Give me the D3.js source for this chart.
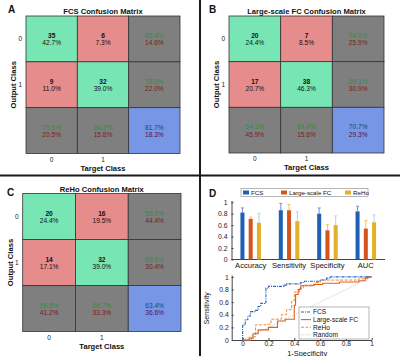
<!DOCTYPE html>
<html>
<head>
<meta charset="utf-8">
<script src="https://cdn.jsdelivr.net/npm/d3@7"></script>
<style>
  body { margin: 0; background: #fff; }
  svg { display: block; font-family: "Liberation Sans", Arial, sans-serif; }
</style>
</head>
<body>
<div id="chart"></div>
<script>
// confusion matrix counts (rows = output class, cols = target class)
const fcsCounts = [[35, 6], [9, 32]];
const largeScaleCounts = [[20, 7], [17, 38]];
const rehoCounts = [[20, 16], [14, 32]];
const classLabels = ['0', '1'];

// panel D bar chart
const metrics = ['Accuracy', 'Sensitivity', 'Specificity', 'AUC'];
const methods = ['FCS', 'Large-scale FC', 'ReHo'];
const fcsScores = [0.82, 0.86, 0.80, 0.84];
const largeScaleScores = [0.71, 0.86, 0.51, 0.54];
const rehoScores = [0.64, 0.67, 0.60, 0.65];
const fcsErrTop = [0.90, 0.98, 0.90, 0.93];
const largeScaleErrTop = [0.74, 0.96, 0.61, 0.68];
const rehoErrTop = [0.80, 0.83, 0.76, 0.78];
const barTicks = [0, 0.2, 0.4, 0.6, 0.8, 1];

// panel D ROC curves, [1-specificity, sensitivity]
const fcsRoc = [[0, 0], [0, 0.24], [0.02, 0.24], [0.02, 0.32], [0.04, 0.32], [0.04, 0.38],
  [0.06, 0.38], [0.06, 0.45], [0.1, 0.45], [0.1, 0.47], [0.12, 0.47], [0.12, 0.53],
  [0.14, 0.53], [0.14, 0.58], [0.18, 0.58], [0.18, 0.82], [0.2, 0.82], [0.2, 0.85],
  [0.32, 0.85], [0.32, 0.87], [0.34, 0.87], [0.34, 0.89], [0.45, 0.89], [0.45, 0.91],
  [0.48, 0.91], [0.48, 0.93], [0.6, 0.93], [0.6, 0.95], [0.65, 0.95], [0.65, 0.98],
  [0.68, 0.98], [0.68, 1], [1, 1]];
const largeScaleRoc = [[0, 0], [0.05, 0], [0.05, 0.03], [0.08, 0.03], [0.08, 0.1],
  [0.12, 0.1], [0.12, 0.16], [0.2, 0.16], [0.2, 0.2], [0.27, 0.2], [0.27, 0.3],
  [0.33, 0.3], [0.33, 0.33], [0.4, 0.33], [0.4, 0.55], [0.41, 0.55], [0.41, 0.72],
  [0.43, 0.72], [0.43, 0.8], [0.45, 0.8], [0.45, 0.86], [0.55, 0.86], [0.55, 0.88],
  [0.62, 0.88], [0.62, 0.9], [0.75, 0.9], [0.75, 0.92], [0.9, 0.92], [0.9, 0.94],
  [0.95, 0.94], [0.95, 0.98], [0.97, 0.98], [0.97, 1], [1, 1]];
const rehoRoc = [[0, 0], [0.07, 0], [0.07, 0.05], [0.1, 0.05], [0.1, 0.24], [0.18, 0.24],
  [0.18, 0.25], [0.22, 0.25], [0.22, 0.33], [0.3, 0.33], [0.3, 0.4], [0.34, 0.4],
  [0.34, 0.48], [0.38, 0.48], [0.38, 0.62], [0.4, 0.62], [0.4, 0.76], [0.44, 0.76],
  [0.44, 0.82], [0.47, 0.82], [0.47, 0.87], [0.56, 0.87], [0.56, 0.91], [0.6, 0.91],
  [0.6, 0.95], [0.9, 0.95], [0.9, 0.97], [0.95, 0.97], [0.95, 1], [1, 1]];
const randomRoc = [[0, 0], [1, 1]];
const rocTicks = [0, 0.2, 0.4, 0.6, 0.8, 1];

const W = 400, H = 356;
const svg = d3.select('#chart').append('svg')
  .attr('width', W).attr('height', H);

// panel dividers
svg.append('line').attr('x1', 200).attr('x2', 200).attr('y1', 0).attr('y2', H)
  .attr('stroke', '#1a1a1a').attr('stroke-width', 2);
svg.append('line').attr('x1', 0).attr('x2', W).attr('y1', 175.5).attr('y2', 175.5)
  .attr('stroke', '#1a1a1a').attr('stroke-width', 2);

const pct = d3.format('.1f');
const green = '#78e6b4', red = '#e68c8c', grey = '#7f7f7f', blue = '#7896e6';

function drawMatrix(box) {
  const counts = box.counts;
  const total = d3.sum(counts.flat());
  const x = d3.scaleBand().domain([0, 1, 2]).range([box.x0, box.x1]);
  const y = d3.scaleBand().domain([0, 1, 2]).range([box.y0, box.y1]);
  const g = svg.append('g');

  const cells = [];
  for (let r = 0; r < 3; r++) {
    for (let c = 0; c < 3; c++) {
      let fill, lines;
      if (r < 2 && c < 2) {
        const v = counts[r][c];
        fill = r === c ? green : red;
        lines = [{ t: v, w: 'bold', col: '#111' }, { t: pct(100 * v / total) + '%', w: 'normal', col: '#111' }];
      } else {
        let good, all;
        if (r < 2 && c === 2) { good = counts[r][r]; all = d3.sum(counts[r]); }
        else if (r === 2 && c < 2) { good = counts[c][c]; all = counts[0][c] + counts[1][c]; }
        else { good = counts[0][0] + counts[1][1]; all = total; }
        const acc = 100 * good / all;
        fill = r === 2 && c === 2 ? blue : grey;
        const topCol = r === 2 && c === 2 ? '#0d4f6b' : '#2f8f3a';
        const botCol = r === 2 && c === 2 ? '#5a0f4a' : '#7a1c1c';
        lines = [{ t: pct(acc) + '%', w: 'normal', col: topCol }, { t: pct(100 - acc) + '%', w: 'normal', col: botCol }];
      }
      cells.push({ r, c, fill, lines });
    }
  }

  g.selectAll('rect').data(cells).join('rect')
    .attr('x', d => x(d.c)).attr('y', d => y(d.r))
    .attr('width', x.bandwidth()).attr('height', y.bandwidth())
    .attr('fill', d => d.fill)
    .attr('stroke', '#333').attr('stroke-width', 0.8);

  cells.forEach(d => {
    const cx = x(d.c) + x.bandwidth() / 2, cy = y(d.r) + y.bandwidth() / 2;
    d.lines.forEach((l, i) => {
      g.append('text')
        .attr('x', cx).attr('y', cy + (i === 0 ? -1 : 6.5))
        .attr('text-anchor', 'middle')
        .attr('font-size', 6.6).attr('font-weight', l.w)
        .attr('fill', l.col)
        .text(l.t);
    });
  });

  // tick labels
  g.selectAll('.ylab').data(classLabels).join('text')
    .attr('x', box.x0 - 4).attr('y', (d, i) => y(i) + y.bandwidth() / 2 + 2)
    .attr('text-anchor', 'end').attr('font-size', 6.5).attr('fill', '#222')
    .text(d => d);
  g.selectAll('.xlab').data(classLabels).join('text')
    .attr('x', (d, i) => x(i) + x.bandwidth() / 2).attr('y', box.y1 + 8)
    .attr('text-anchor', 'middle').attr('font-size', 6.5).attr('fill', '#222')
    .text(d => d);

  g.append('text')
    .attr('x', (box.x0 + box.x1) / 2).attr('y', box.y0 - 2)
    .attr('text-anchor', 'middle').attr('font-size', 7.6).attr('font-weight', 'bold')
    .attr('fill', '#111').text(box.title);
  g.append('text')
    .attr('x', (box.x0 + box.x1) / 2).attr('y', box.y1 + 17)
    .attr('text-anchor', 'middle').attr('font-size', 7.6).attr('font-weight', 'bold')
    .attr('fill', '#111').text('Target Class');
  g.append('text')
    .attr('transform', `translate(${box.x0 - 10}, ${(box.y0 + box.y1) / 2}) rotate(-90)`)
    .attr('text-anchor', 'middle').attr('font-size', 7.6).attr('font-weight', 'bold')
    .attr('fill', '#111').text('Output Class');
  g.append('text')
    .attr('x', box.lx).attr('y', box.ly)
    .attr('font-size', 10).attr('font-weight', 'bold').attr('fill', '#111')
    .text(box.letter);
}

drawMatrix({ counts: fcsCounts, title: 'FCS Confusion Matrix', letter: 'A',
  x0: 26, x1: 180, y0: 16, y1: 153.5, lx: 8, ly: 13 });
drawMatrix({ counts: largeScaleCounts, title: 'Large-scale FC Confusion Matrix', letter: 'B',
  x0: 229, x1: 384, y0: 16, y1: 153, lx: 209, ly: 13 });
drawMatrix({ counts: rehoCounts, title: 'ReHo Confusion Matrix', letter: 'C',
  x0: 22.7, x1: 181, y0: 193.5, y1: 331.5, lx: 7, ly: 196 });

// ---- panel D: bars ----
svg.append('text').attr('x', 209).attr('y', 197)
  .attr('font-size', 10).attr('font-weight', 'bold').attr('fill', '#111').text('D');

const barColors = ['#1f5fb5', '#d3541c', '#e2b02a'];
const errColors = ['#8a86dc', '#e9c766', '#a8d6ee'];
const scoreSets = [fcsScores, largeScaleScores, rehoScores];
const errSets = [fcsErrTop, largeScaleErrTop, rehoErrTop];

const bx = d3.scaleLinear().domain([0.5, 4.5]).range([231.5, 385]);
const by = d3.scaleLinear().domain([0, 1.03]).range([259.5, 200.5]);

const barG = svg.append('g');
barG.append('g')
  .attr('transform', 'translate(231.5,0)')
  .call(d3.axisLeft(by).tickValues(barTicks).tickSize(-2).tickSizeOuter(0).tickPadding(4)
    .tickFormat(d3.format('~g')))
  .call(a => a.select('.domain').attr('stroke', '#444'))
  .call(a => a.selectAll('.tick line').attr('stroke', '#444'))
  .call(a => a.selectAll('text').attr('font-size', 6.8).attr('fill', '#222')
    .attr('font-family', '"Liberation Sans", Arial, sans-serif'));
barG.append('line').attr('x1', 231.5).attr('x2', 385).attr('y1', by(0)).attr('y2', by(0))
  .attr('stroke', '#444').attr('stroke-width', 1);

const offs = [-0.215, 0, 0.215], bw = 0.105;
scoreSets.forEach((vals, s) => {
  barG.selectAll(null).data(vals).join('line')
    .attr('x1', (d, i) => bx(i + 1 + offs[s])).attr('x2', (d, i) => bx(i + 1 + offs[s]))
    .attr('y1', d => by(d)).attr('y2', (d, i) => by(errSets[s][i]))
    .attr('stroke', errColors[s]).attr('stroke-width', 1);
  barG.selectAll(null).data(errSets[s]).join('line')
    .attr('x1', (d, i) => bx(i + 1 + offs[s]) - 1.5).attr('x2', (d, i) => bx(i + 1 + offs[s]) + 1.5)
    .attr('y1', d => by(d)).attr('y2', d => by(d))
    .attr('stroke', errColors[s]).attr('stroke-width', 1);
  barG.selectAll(null).data(vals).join('rect')
    .attr('x', (d, i) => bx(i + 1 + offs[s] - bw / 2))
    .attr('width', bx(bw) - bx(0))
    .attr('y', d => by(d)).attr('height', d => by(0) - by(d))
    .attr('fill', barColors[s]);
});
barG.selectAll('.cat').data(metrics).join('text')
  .attr('x', (d, i) => bx(i + 1)).attr('y', 268)
  .attr('text-anchor', 'middle').attr('font-size', 7.6).attr('fill', '#111')
  .text(d => d);

// legend
const leg = svg.append('g');
leg.append('rect').attr('x', 241).attr('y', 188.5).attr('width', 127).attr('height', 8)
  .attr('fill', '#fff').attr('stroke', '#888').attr('stroke-width', 0.6);
const legX = [243, 281, 345];
methods.forEach((m, i) => {
  leg.append('rect').attr('x', legX[i]).attr('y', 190.5).attr('width', 6).attr('height', 4)
    .attr('fill', barColors[i]);
  leg.append('text').attr('x', legX[i] + 8).attr('y', 194.8)
    .attr('font-size', 6.2).attr('fill', '#111').text(m);
});

// ---- panel D: ROC ----
const rx = d3.scaleLinear().domain([-0.085, 1]).range([231.7, 371.7]);
const ry = d3.scaleLinear().domain([0, 1.03]).range([340, 275]);
const rocG = svg.append('g');
rocG.append('g').attr('transform', 'translate(0,340)')
  .call(d3.axisBottom(rx).tickValues(rocTicks).tickSize(-2).tickSizeOuter(0).tickPadding(1.5)
    .tickFormat(d3.format('~g')))
  .call(a => a.select('.domain').attr('stroke', '#444'))
  .call(a => a.selectAll('.tick line').attr('stroke', '#444'))
  .call(a => a.selectAll('text').attr('font-size', 6.6).attr('fill', '#222')
    .attr('font-family', '"Liberation Sans", Arial, sans-serif'));
rocG.append('g').attr('transform', 'translate(231.7,0)')
  .call(d3.axisLeft(ry).tickValues(rocTicks).tickSize(-2).tickSizeOuter(0).tickPadding(3)
    .tickFormat(d3.format('~g')))
  .call(a => a.select('.domain').attr('stroke', '#444'))
  .call(a => a.selectAll('.tick line').attr('stroke', '#444'))
  .call(a => a.selectAll('text').attr('font-size', 6.8).attr('fill', '#222')
    .attr('font-family', '"Liberation Sans", Arial, sans-serif'));

const rline = d3.line().x(d => rx(d[0])).y(d => ry(d[1]));
const rocSeries = [
  { name: 'FCS', data: fcsRoc, color: '#2a62c8', dash: '3,1,1,1', w: 1.1 },
  { name: 'Large-scale FC', data: largeScaleRoc, color: '#e0601c', dash: null, w: 1.1 },
  { name: 'ReHo', data: rehoRoc, color: '#f08a3a', dash: '3,1.5', w: 1 },
  { name: 'Random', data: randomRoc, color: '#b8b8b8', dash: '1,1.2', w: 0.8 }
];
rocSeries.slice().reverse().forEach(s => {
  rocG.append('path').datum(s.data)
    .attr('d', rline).attr('fill', 'none')
    .attr('stroke', s.color).attr('stroke-width', s.w)
    .attr('stroke-dasharray', s.dash);
});

rocG.append('text').attr('x', rx(0.5)).attr('y', 355.5)
  .attr('text-anchor', 'middle').attr('font-size', 7.4).attr('fill', '#111').text('1-Specificity');
rocG.append('text')
  .attr('transform', `translate(209, ${ry(0.5)}) rotate(-90)`)
  .attr('text-anchor', 'middle').attr('font-size', 7.2).attr('fill', '#111').text('Sensitivity');

const rleg = rocG.append('g');
rleg.append('rect').attr('x', 299).attr('y', 307).attr('width', 70).attr('height', 32)
  .attr('fill', '#fff').attr('stroke', '#888').attr('stroke-width', 0.6);
rocSeries.forEach((s, i) => {
  const yy = 312 + i * 7.6;
  rleg.append('line').attr('x1', 301).attr('x2', 311).attr('y1', yy).attr('y2', yy)
    .attr('stroke', s.color).attr('stroke-width', s.w).attr('stroke-dasharray', s.dash);
  rleg.append('text').attr('x', 313).attr('y', yy + 2.3)
    .attr('font-size', 6.6).attr('fill', '#111').text(s.name);
});
</script>
</body>
</html>
